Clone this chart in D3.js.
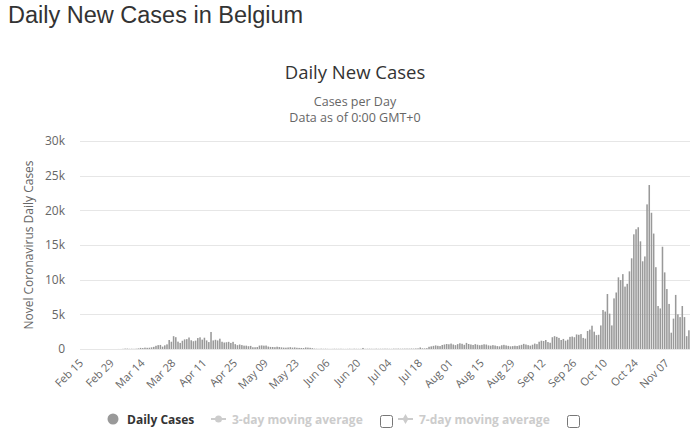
<!DOCTYPE html>
<html lang="en">
<head>
<meta charset="UTF-8">
<title>Daily New Cases in Belgium</title>
<script src="https://d3js.org/d3.v7.min.js"></script>
<style>
  body { margin: 0; background: #fff; }
  svg text { font-family: "Open Sans", "DejaVu Sans", sans-serif; }
  .page-title { font-family: "Liberation Sans", Arial, sans-serif; font-size: 23.5px; fill: #333; }
  .axis path { display: none; }
  .axis text { fill: #666; font-size: 11px; }
</style>
</head>
<body>
<svg id="chart" width="700" height="442"></svg>
<script>
// daily new cases, Feb 15 .. Nov 17 2020
var casesFeb = [0,0,0,0,0,0,0,0,0,0,0,0,0,0,0];
var casesMar = [1,0,6,5,27,59,60,31,39,28,47,85,160,133,197,172,185,243,309,462,558,586,342,526,668,1298,1049,1850,1702,1063,876];
var casesApr = [1189,1384,1422,1661,1260,1123,1209,1580,1684,1351,1629,1237,1000,2454,1236,1329,1236,1487,1045,933,973,1032,875,1032,701,553,647,564,482,485];
var casesMay = [400,450,250,250,280,490,520,480,500,350,300,290,260,330,280,240,200,190,220,260,200,230,180,160,150,140,220,200,170,120,60];
var casesJun = [40,30,50,35,45,30,20,25,40,35,30,40,25,20,30,40,25,45,35,30,30,150,30,40,45,35,30,50,35,40];
var casesJul = [40,50,45,35,30,55,50,60,45,50,55,60,50,70,60,80,90,220,100,90,120,320,380,450,520,460,420,580,650,720,680];
var casesAug = [780,650,560,700,820,750,600,880,720,650,580,700,620,540,600,680,640,520,480,560,500,420,380,540,600,520,450,380,420,470,430];
var casesSep = [520,600,740,650,560,480,620,780,700,1050,1200,1150,1300,1000,900,1700,1850,1750,1600,1300,1450,1200,1350,1750,1800,1700,2100,2050,2150,1600];
var casesOct = [1500,2600,2800,3360,2500,2000,2050,3400,5620,5400,7930,5100,3400,7300,8150,10340,9950,10800,9000,9400,11200,13080,16540,17270,17560,15530,12650,13350,20860,23650,19650];
var casesNov = [16650,11800,6200,5850,14750,11050,8650,6500,2350,4380,7800,5000,4600,6200,4600,1850,2700];

var dailyCases = [].concat(casesFeb, casesMar, casesApr, casesMay, casesJun, casesJul, casesAug, casesSep, casesOct, casesNov);

var tickLabels = ["Feb 15","Feb 29","Mar 14","Mar 28","Apr 11","Apr 25","May 09","May 23","Jun 06","Jun 20",
                  "Jul 04","Jul 18","Aug 01","Aug 15","Aug 29","Sep 12","Sep 26","Oct 10","Oct 24","Nov 07"];
var yTicks = [0, 5000, 10000, 15000, 20000, 25000, 30000];

var plotLeft = 80, plotRight = 690, plotTop = 141, plotBottom = 349;

var svg = d3.select("#chart");

svg.append("text").attr("class", "page-title")
    .attr("x", 8).attr("y", 23)
    .text("Daily New Cases in Belgium");

svg.append("text")
    .attr("x", 355).attr("y", 79)
    .attr("text-anchor", "middle")
    .style("font-size", "18.5px").style("fill", "#333")
    .text("Daily New Cases");
svg.append("text")
    .attr("x", 355).attr("y", 106)
    .attr("text-anchor", "middle")
    .style("font-size", "12.5px").style("fill", "#666")
    .text("Cases per Day");
svg.append("text")
    .attr("x", 355).attr("y", 122)
    .attr("text-anchor", "middle")
    .style("font-size", "12.5px").style("fill", "#666")
    .text("Data as of 0:00 GMT+0");

var x = d3.scaleBand()
    .domain(d3.range(dailyCases.length))
    .range([plotLeft, plotRight])
    .paddingInner(0.3)
    .paddingOuter(0.15);

var y = d3.scaleLinear().domain([0, 30000]).range([plotBottom, plotTop]);

// grid
svg.append("g").selectAll("line").data(yTicks).enter()
    .append("line")
    .attr("x1", plotLeft).attr("x2", plotRight)
    .attr("y1", function(d){ return Math.round(y(d)) + 0.5; })
    .attr("y2", function(d){ return Math.round(y(d)) + 0.5; })
    .attr("stroke", "#e6e6e6");

var yAxis = svg.append("g").attr("class", "axis")
    .attr("transform", "translate(" + (plotLeft - 12) + ",0)")
    .call(d3.axisLeft(y).tickValues(yTicks).tickSize(0)
        .tickFormat(function(d){ return d === 0 ? "0" : (d / 1000) + "k"; }));
yAxis.selectAll("text").style("font-size", "12px");

svg.append("text")
    .attr("transform", "translate(33," + ((plotTop + plotBottom) / 2) + ") rotate(-90)")
    .attr("text-anchor", "middle")
    .style("font-size", "12px").style("fill", "#666")
    .text("Novel Coronavirus Daily Cases");

// bars
svg.append("g").selectAll("rect").data(dailyCases).enter()
    .append("rect")
    .attr("x", function(d, i){ return x(i); })
    .attr("width", x.bandwidth())
    .attr("y", function(d){ return y(d); })
    .attr("height", function(d){ return plotBottom - y(d); })
    .attr("fill", "#999");

// x labels every 14 days
var tickIdx = tickLabels.map(function(t, k){ return k * 14; });
svg.append("g").attr("class", "axis").selectAll("text").data(tickIdx).enter()
    .append("text")
    .attr("transform", function(d){
        return "translate(" + (x(d) + x.bandwidth() / 2) + "," + (plotBottom + 12) + ") rotate(-45)";
    })
    .attr("text-anchor", "end")
    .attr("dy", "0.35em")
    .text(function(d, k){ return tickLabels[k]; });

// legend
var lg = svg.append("g").attr("transform", "translate(0,419)");
lg.append("circle").attr("cx", 113).attr("cy", 0).attr("r", 5.5).attr("fill", "#999");
lg.append("text").attr("x", 127).attr("y", 4.5)
    .style("font-size", "12px").style("font-weight", "bold").style("fill", "#333")
    .text("Daily Cases");

var avgItems = [
    {label: "3-day moving average", x: 211, box: 380},
    {label: "7-day moving average", x: 398, box: 567}
];
avgItems.forEach(function(it, k){
    lg.append("line").attr("x1", it.x).attr("x2", it.x + 15).attr("y1", 0).attr("y2", 0)
        .attr("stroke", "#ccc").attr("stroke-width", 2);
    if (k === 0) {
        lg.append("circle").attr("cx", it.x + 7.5).attr("cy", 0).attr("r", 3.5).attr("fill", "#ccc");
    } else {
        lg.append("path").attr("d", d3.symbol(d3.symbolDiamond, 30)())
            .attr("transform", "translate(" + (it.x + 7.5) + ",0)").attr("fill", "#ccc");
    }
    lg.append("text").attr("x", it.x + 21).attr("y", 4.5)
        .style("font-size", "12px").style("font-weight", "bold").style("fill", "#ccc")
        .text(it.label);
    lg.append("rect").attr("x", it.box + 0.5).attr("y", -3.5).attr("width", 12).attr("height", 12)
        .attr("rx", 2).attr("fill", "#fff").attr("stroke", "#777");
});
</script>
</body>
</html>
